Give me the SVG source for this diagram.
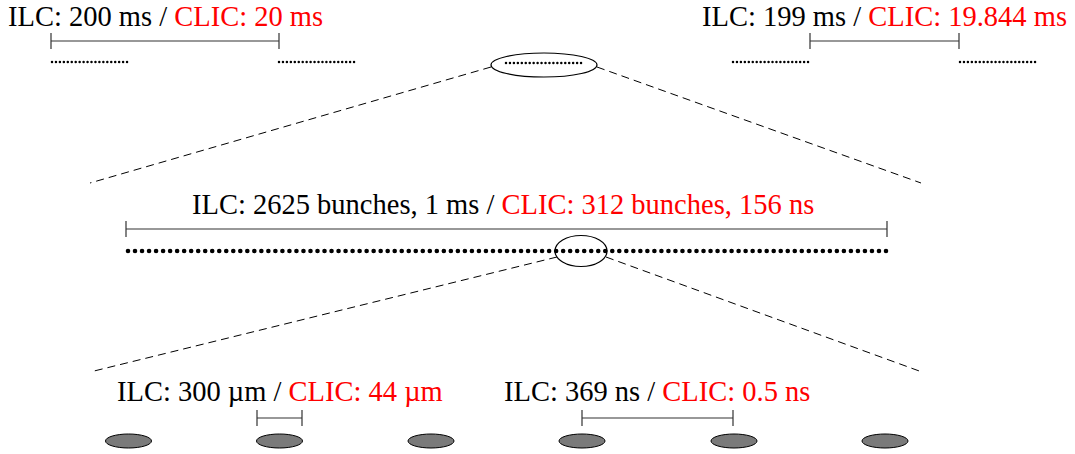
<svg xmlns="http://www.w3.org/2000/svg" width="1075" height="454" viewBox="0 0 1075 454">
  <style>
    text { font-family: "Liberation Serif", "Times New Roman", serif; font-size: 28.5px; fill: #000; }
    .red { fill: #ff0000; }
    .bracket { stroke: #333; stroke-width: 1.2; fill: none; }
    .zoom { stroke: #000; stroke-width: 1; fill: none; stroke-dasharray: 8 5; }
    .lens { stroke: #000; stroke-width: 1.2; fill: none; }
    .trainSmall { stroke: #000; stroke-width: 2.5; stroke-linecap: round; stroke-dasharray: 0 3.95; fill: none; }
    .trainBig { stroke: #000; stroke-width: 4.6; stroke-linecap: round; stroke-dasharray: 0 7.0185; fill: none; }
    .bunch { fill: #7a7a7a; stroke: #000; stroke-width: 1; }
  </style>

  <!-- connectors: zoom-in projection lines -->
  <g id="connectors">
    <line class="zoom" x1="491" y1="67" x2="90" y2="183"/>
    <line class="zoom" x1="597" y1="67" x2="921" y2="183"/>
    <line class="zoom" x1="557" y1="257" x2="90" y2="372"/>
    <line class="zoom" x1="606" y1="257" x2="922" y2="372"/>
  </g>

  <!-- train level: ILC/CLIC repetition -->
  <g id="train-left">
    <text x="8" y="25.5">ILC: 200 ms / <tspan class="red">CLIC: 20 ms</tspan></text>
    <path class="bracket" d="M51 33 V49 M51 41 H279 M279 33 V49"/>
    <path class="trainSmall" d="M52 62 H131"/>
    <path class="trainSmall" d="M279 62 H358"/>
  </g>

  <g id="train-right">
    <text x="702" y="25.5">ILC: 199 ms / <tspan class="red">CLIC: 19.844 ms</tspan></text>
    <path class="bracket" d="M810 33 V49 M810 41 H959 M959 33 V49"/>
    <path class="trainSmall" d="M733 62 H812"/>
    <path class="trainSmall" d="M960 62 H1039"/>
  </g>

  <g id="train-center">
    <ellipse class="lens" cx="544" cy="65" rx="53" ry="12"/>
    <path class="trainSmall" d="M506 63 H585"/>
  </g>

  <!-- bunch train level -->
  <g id="bunch-train">
    <text x="192" y="214">ILC: 2625 bunches, 1 ms / <tspan class="red">CLIC: 312 bunches, 156 ns</tspan></text>
    <path class="bracket" d="M126 221 V237 M126 229 H887 M887 221 V237"/>
    <path class="trainBig" d="M128 251 H886"/>
    <ellipse class="lens" cx="581" cy="251" rx="26" ry="15.5"/>
  </g>

  <!-- individual bunches -->
  <g id="bunch-spacing">
    <text x="117" y="401">ILC: 300 µm / <tspan class="red">CLIC: 44 µm</tspan></text>
    <path class="bracket" d="M257 410 V426 M257 418 H302 M302 410 V426"/>
  </g>

  <g id="bunch-separation">
    <text x="504" y="401">ILC: 369 ns / <tspan class="red">CLIC: 0.5 ns</tspan></text>
    <path class="bracket" d="M582 410 V426 M582 418 H733 M733 410 V426"/>
  </g>

  <g id="bunches">
    <ellipse class="bunch" cx="128.5" cy="441" rx="23" ry="7"/>
    <ellipse class="bunch" cx="279.5" cy="441" rx="23" ry="7"/>
    <ellipse class="bunch" cx="431" cy="441" rx="23" ry="7"/>
    <ellipse class="bunch" cx="582" cy="441" rx="23" ry="7"/>
    <ellipse class="bunch" cx="734" cy="441" rx="23" ry="7"/>
    <ellipse class="bunch" cx="885" cy="441" rx="23" ry="7"/>
  </g>
</svg>
